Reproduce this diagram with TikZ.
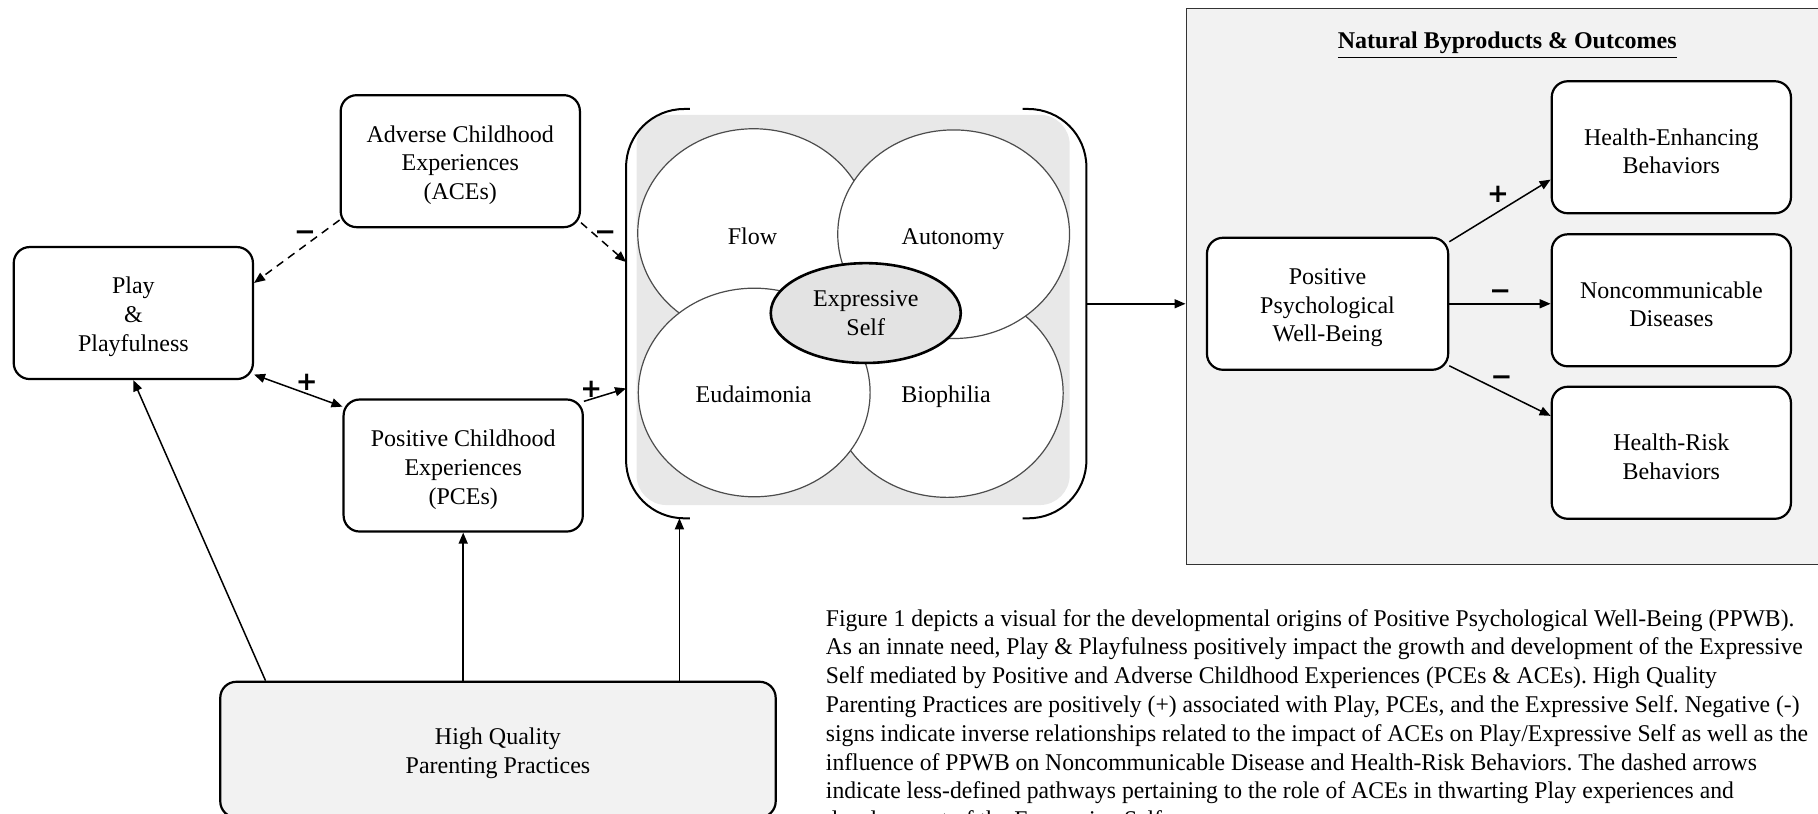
\documentclass[tikz,border=0pt]{standalone}
\usepackage{fontspec}
\setmainfont{Liberation Serif}
\newfontfamily\signfont{DejaVu Sans}
\newfontfamily\capfont{Liberation Serif}[FakeStretch=0.985]
\usetikzlibrary{arrows.meta,fit,calc,shapes.geometric}
\definecolor{panelgray}{HTML}{F2F2F2}
\definecolor{selfgray}{HTML}{E8E8E8}
\definecolor{ellgray}{HTML}{E3E3E3}
\frenchspacing
\begin{document}
\begin{tikzpicture}[x=0.5797pt,y=-0.5797pt,
  box/.style={draw, line width=1.1pt, rounded corners=8pt, fill=white, inner sep=0pt,
    minimum width=119.6pt, minimum height=66pt},
  bt/.style={inner sep=0pt, align=center, font=\fontsize{12}{14.4}\selectfont, yshift=-2pt},
  arr/.style={-{Triangle[length=5.5pt,width=4.5pt]}, line width=0.75pt},
  darr/.style={arr, dash pattern=on 4pt off 3pt},
  sign/.style={font=\signfont\bfseries\fontsize{13}{14}\selectfont, inner sep=0pt},
  circ/.style={ellipse, draw=black!70, line width=0.6pt, fill=white, inner sep=0pt,
    minimum width=115.9pt, minimum height=104.3pt},
  lbl/.style={inner sep=0pt, align=center, font=\fontsize{12}{14.4}\selectfont},
  clbl/.style={lbl, anchor=base}
]
\useasboundingbox (0,0) rectangle (1568,702);
\clip (0,0) rectangle (1568,702);

% outcomes panel
\node[draw=black!80, line width=0.6pt, fill=panelgray, inner sep=0pt,
  fit={(1023,7) (1578,487)}] (outbox) {};
\node[lbl, font=\bfseries\fontsize{12}{14.4}\selectfont] (title) at (1300,39)
  {\underline{Natural Byproducts \& Outcomes}};

% left boxes
\node[box, label={[bt]center:{Play\\\&\\Playfulness}}] (play) at (115,270) {};
\node[box, label={[bt]center:{Adverse Childhood\\Experiences\\(ACEs)}}] (ace) at (397,139) {};
\node[box, label={[bt]center:{Positive Childhood\\Experiences\\(PCEs)}}] (pce) at (399.5,401.5) {};
\node[box, fill=panelgray, minimum width=277.7pt, minimum height=67.8pt,
  label={[bt]center:{High Quality\\Parenting Practices}}] (hq) at (429.5,646.5) {};

% expressive self group
\node[inner sep=0pt, fit={(540,94) (937,447)}] (grp) {};
\fill[selfgray, rounded corners=15pt] (549,99) rectangle (922.6,435.6);
\draw[line width=1pt, rounded corners=29pt] (595,94) -- (540,94) -- (540,447) -- (595,447);
\draw[line width=1pt, rounded corners=29pt] (882,94) -- (937,94) -- (937,447) -- (882,447);
\node[circ] (flow) at (650,201) {};
\node[circ] (bio) at (817,339) {};
\node[circ] (auto) at (822.5,202) {};
\node[circ] (eud) at (650.5,338.5) {};
\node[clbl] (flowt) at (649,211) {Flow};
\node[clbl] (biot) at (816,347) {Biophilia};
\node[clbl] (autot) at (822,211) {Autonomy};
\node[clbl] (eudt) at (650,347) {Eudaimonia};
\node[ellipse, draw, line width=1.3pt, fill=ellgray, inner sep=0pt, minimum width=95pt,
  minimum height=49.9pt, align=center, font=\fontsize{12}{14.4}\selectfont] (self) at (746.7,270)
  {Expressive\\Self};
\coordinate (grpA) at (540,226);
\coordinate (grpP) at (540,335);
\coordinate (grpB) at (586,447);
\coordinate (grpE) at (937,262);

% right boxes
\node[box, minimum width=120.6pt, label={[bt]center:{Positive\\Psychological\\Well-Being}}] (ppwb) at (1145,262) {};
\node[box, label={[bt]center:{Health-Enhancing\\Behaviors}}] (heb) at (1441.5,127) {};
\node[box, label={[bt]center:{Noncommunicable\\Diseases}}] (ncd) at (1441.5,259) {};
\node[box, label={[bt]center:{Health-Risk\\Behaviors}}] (hrb) at (1441.5,390.5) {};

% connectors
\draw[darr] (ace.206) -- (play.14);
\draw[darr] (ace.-27) -- (grpA);
\draw[{Triangle[length=5.5pt,width=4.5pt]}-{Triangle[length=5.5pt,width=4.5pt]}, line width=0.75pt]
  (play.-27) -- (pce.154);
\draw[arr] (pce.28) -- (grpP);
\draw[arr] ($(hq.north west)+(40,0)$) -- (play.south);
\draw[arr] (pce.south |- hq.north) -- (pce.south);
\draw[arr] (grpB |- hq.north) -- (grpB);
\draw[arr] (grpE) -- (grpE -| outbox.west);
\draw[arr] (ppwb.27) -- (heb.195);
\draw[arr] (ppwb.east) -- (ppwb.east -| ncd.west);
\draw[arr] (ppwb.-27) -- (hrb.163);

% signs
\node[sign] (s1) at (263,203) {−};
\node[sign] (s2) at (522,203) {−};
\node[sign] (s3) at (1294,254) {−};
\node[sign] (s4) at (1295,328) {−};
\node[sign] (s5) at (264.5,330) {+};
\node[sign] (s6) at (510,336) {+};
\node[sign] (s7) at (1292,168) {+};

% caption
\node[anchor=north west, inner sep=0pt, align=left,
  font=\capfont\fontsize{12}{14.4}\selectfont] (cap) at (712,525)
{Figure 1 depicts a visual for the developmental origins of Positive Psychological Well-Being (PPWB).\\
As an innate need, Play \& Playfulness positively impact the growth and development of the Expressive\\
Self mediated by Positive and Adverse Childhood Experiences (PCEs \& ACEs). High Quality\\
Parenting Practices are positively (+) associated with Play, PCEs, and the Expressive Self. Negative (-)\\
signs indicate inverse relationships related to the impact of ACEs on Play/Expressive Self as well as the\\
influence of PPWB on Noncommunicable Disease and Health-Risk Behaviors. The dashed arrows\\
indicate less-defined pathways pertaining to the role of ACEs in thwarting Play experiences and\\
development of the Expressive Self.};
\end{tikzpicture}
\end{document}
